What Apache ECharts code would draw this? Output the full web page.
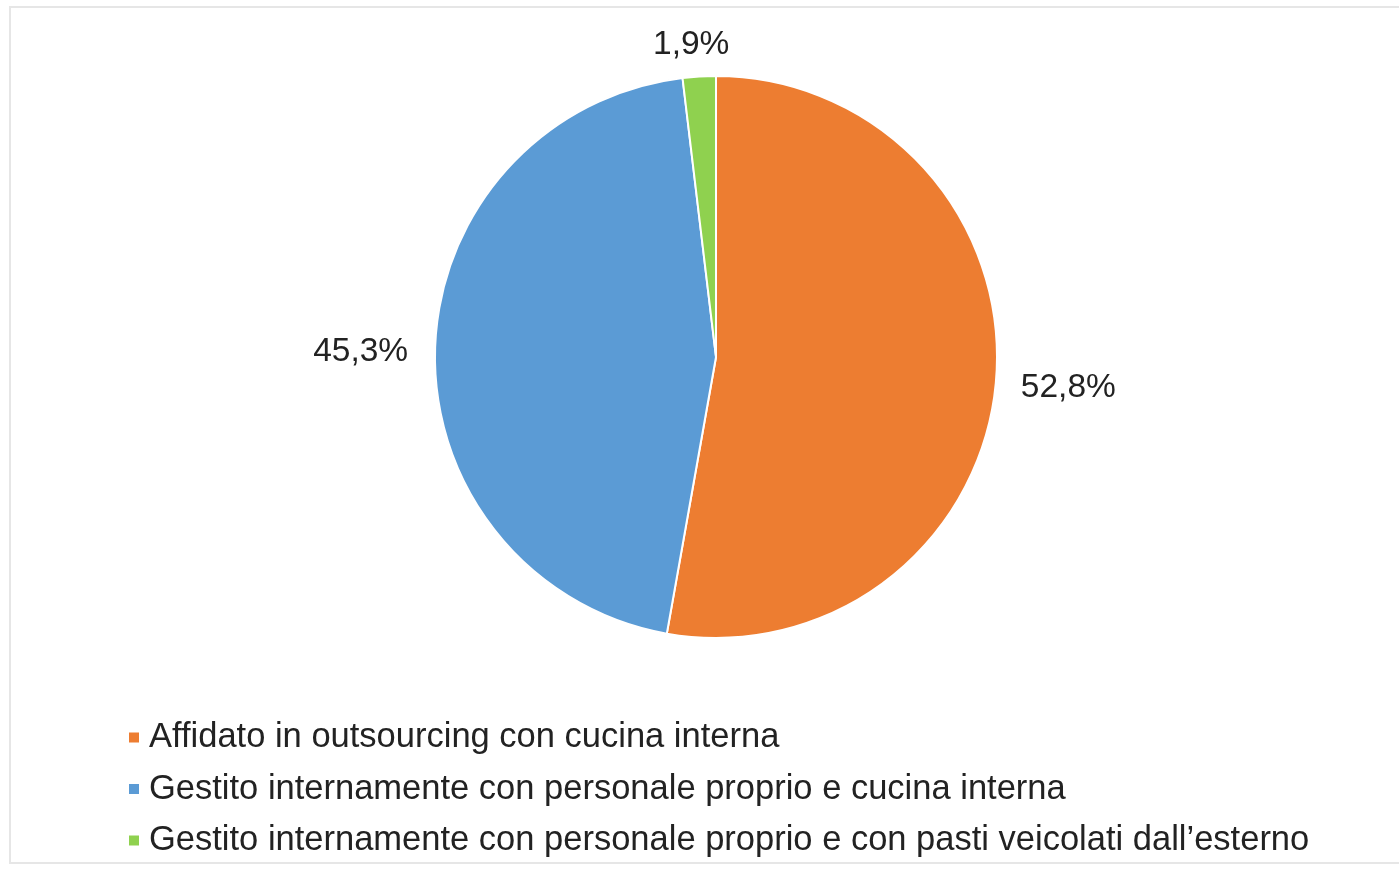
<!DOCTYPE html>
<html>
<head>
<meta charset="utf-8">
<script src="https://cdn.jsdelivr.net/npm/echarts@6/dist/echarts.min.js"></script>
<style>
  html, body { margin: 0; padding: 0; background: #fff; }
  #frame {
    position: absolute; left: 9px; top: 6px; width: 1400px; height: 858px;
    border: 2px solid #e6e6e6; box-sizing: border-box;
  }
  #chart { position: absolute; left: 0; top: 0; width: 1399px; height: 869px; }
</style>
</head>
<body>
<div id="frame"></div>
<div id="chart"></div>
<script>
// categories and shares (%)
const categories = [
    "Affidato in outsourcing con cucina interna",
    "Gestito internamente con personale proprio e cucina interna",
    "Gestito internamente con personale proprio e con pasti veicolati dall\u2019esterno"
];
const shares = [52.8, 45.3, 1.9];
const colors = ["#ED7D31", "#5B9BD5", "#8FD14F"];

const chart = echarts.init(document.getElementById("chart"));

const option = {
    animation: false,
    legend: {
        orient: "vertical",
        left: 122,
        top: 715,
        icon: "rect",
        itemWidth: 12,
        itemHeight: 12,
        itemGap: 16.5,
        textStyle: {
            fontFamily: "Liberation Sans, Arial, sans-serif",
            fontSize: 34.5,
            color: "#222",
            padding: [0, 0, 0, 4]
        },
        data: categories
    },
    series: [
        {
            type: "pie",
            center: [716, 357],
            radius: 281,
            startAngle: 90,
            clockwise: true,
            itemStyle: {
                borderColor: "#fff",
                borderWidth: 2
            },
            label: {
                show: true,
                position: "outside",
                fontFamily: "Liberation Sans, Arial, sans-serif",
                fontSize: 33.5,
                color: "#222",
                formatter: p => p.value.toFixed(1).replace(".", ",") + "%"
            },
            labelLine: { show: false, length: 14, length2: 10 },
            labelLayout: p => {
                if (p.dataIndex === 2) return { dx: 46, dy: -18 };
                if (p.dataIndex === 0) return { dx: -4, dy: 5 };
                return { dx: 2, dy: 3 };
            },
            data: categories.map((name, i) => ({
                name: name,
                value: shares[i],
                itemStyle: { color: colors[i] }
            }))
        }
    ]
};

chart.setOption(option);
window.addEventListener("resize", () => chart.resize());
</script>
</body>
</html>
